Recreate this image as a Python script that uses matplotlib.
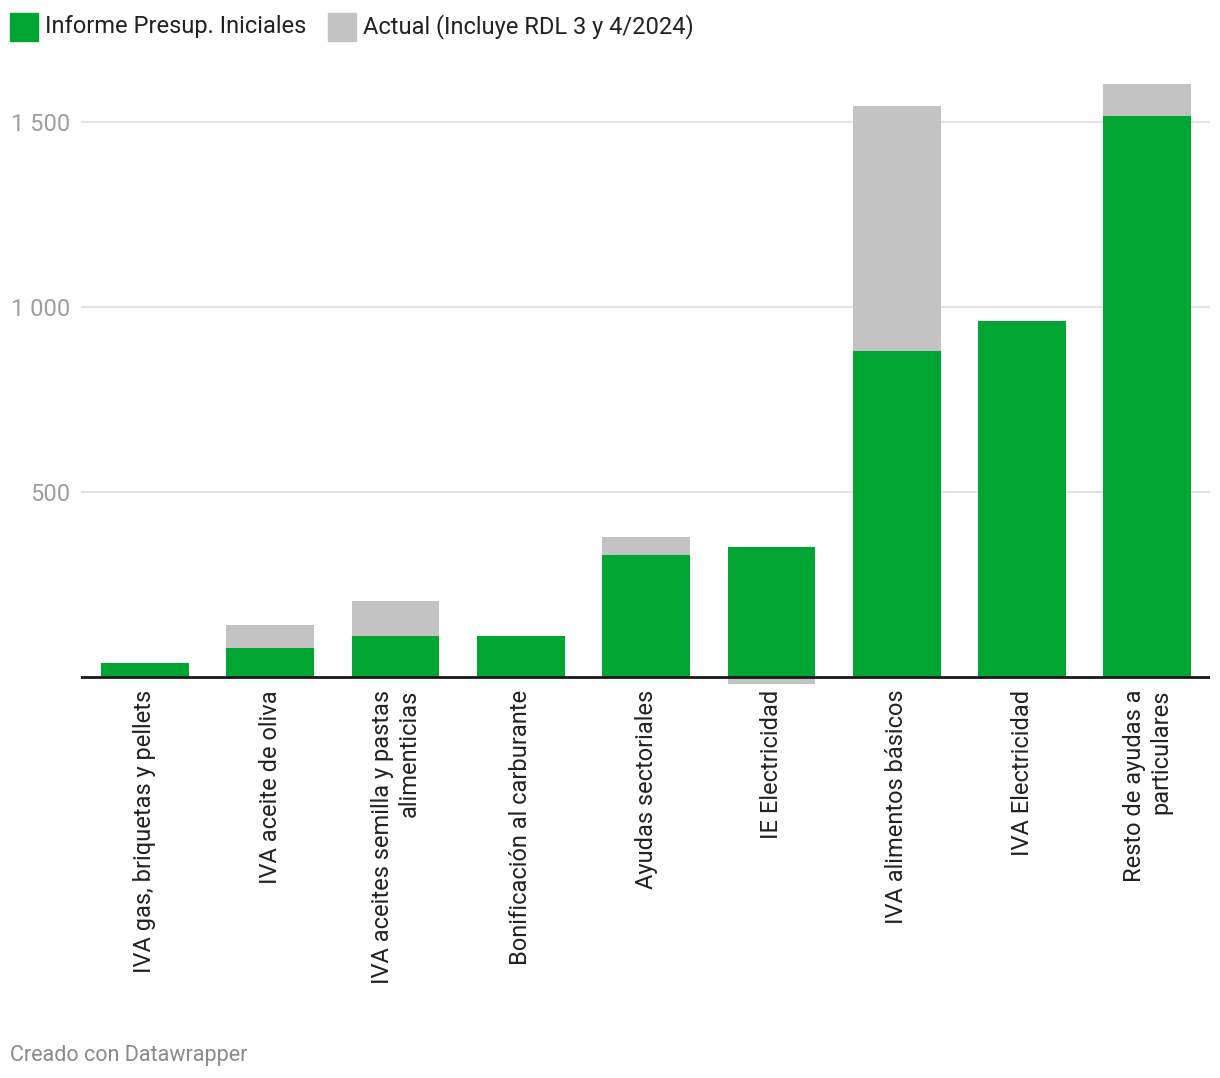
import numpy as np
import matplotlib
matplotlib.use("Agg")
import matplotlib.pyplot as plt
from matplotlib.patches import Rectangle

plt.rcParams['font.family'] = ['Roboto', 'DejaVu Sans']

# data (millones de euros)
categories = [
    "IVA gas, briquetas y pellets",
    "IVA aceite de oliva",
    "IVA aceites semilla y pastas\nalimenticias",
    "Bonificación al carburante",
    "Ayudas sectoriales",
    "IE Electricidad",
    "IVA alimentos básicos",
    "IVA Electricidad",
    "Resto de ayudas a\nparticulares",
]
informe_inicial = [38, 78, 111, 111, 330, 351, 881, 962, 1515]
actual_extra = [0, 62, 94, 0, 48, -18, 661, 0, 87]
ytick_vals = [500, 1000, 1500]
ytick_labels = ["500", "1 000", "1 500"]

GREEN = "#00a532"
GRAY = "#c3c3c3"

W, H = 1220, 1078
fig = plt.figure(figsize=(W / 100, H / 100), dpi=100)

# axes placed in pixel terms
left, right = 81, 1210
top_px, bot_px = 81, 684.4
ax = fig.add_axes([left / W, 1 - bot_px / H, (right - left) / W, (bot_px - top_px) / H])

x = np.arange(len(categories))
green = np.array(informe_inicial)
extra = np.array(actual_extra)
ax.bar(x, green, width=0.70, color=GREEN, zorder=2)
ax.bar(x, extra, width=0.70, bottom=np.where(extra >= 0, green, 0), color=GRAY, zorder=2)

ax.set_xlim(-0.51, 8.5)
ax.set_ylim(-20, 1610)

for s in ax.spines.values():
    s.set_visible(False)
ax.axhline(0, color="#1a1a1a", lw=2, zorder=3)
ax.set_yticks(ytick_vals)
ax.set_yticklabels(ytick_labels)
ax.yaxis.grid(True, color="#e3e3e3", lw=1.5, zorder=0)
ax.tick_params(axis="y", length=0, pad=8, labelsize=17, labelcolor="#9e9e9e")
ax.tick_params(axis="x", length=0, pad=4)

ax.set_xticks(x)
ax.set_xticklabels(categories, rotation=90, ha="center", va="top",
                   multialignment="right", fontsize=17, color="#222222")

# legend
fig.add_artist(Rectangle((10 / W, 1 - 41 / H), 28 / W, 28 / H,
                         transform=fig.transFigure, color=GREEN))
fig.text(45 / W, 1 - 27 / H, "Informe Presup. Iniciales", fontsize=17,
         color="#222222", va="center", ha="left")
fig.add_artist(Rectangle((328 / W, 1 - 41 / H), 28 / W, 28 / H,
                         transform=fig.transFigure, color=GRAY))
fig.text(363 / W, 1 - 27 / H, "Actual (Incluye RDL 3 y 4/2024)", fontsize=17,
         color="#222222", va="center", ha="left")

fig.text(10 / W, 1 - 1055 / H, "Creado con Datawrapper", fontsize=15.5,
         color="#8a8a8a", va="center", ha="left")

fig.savefig("out.png", dpi=100, facecolor="white")
